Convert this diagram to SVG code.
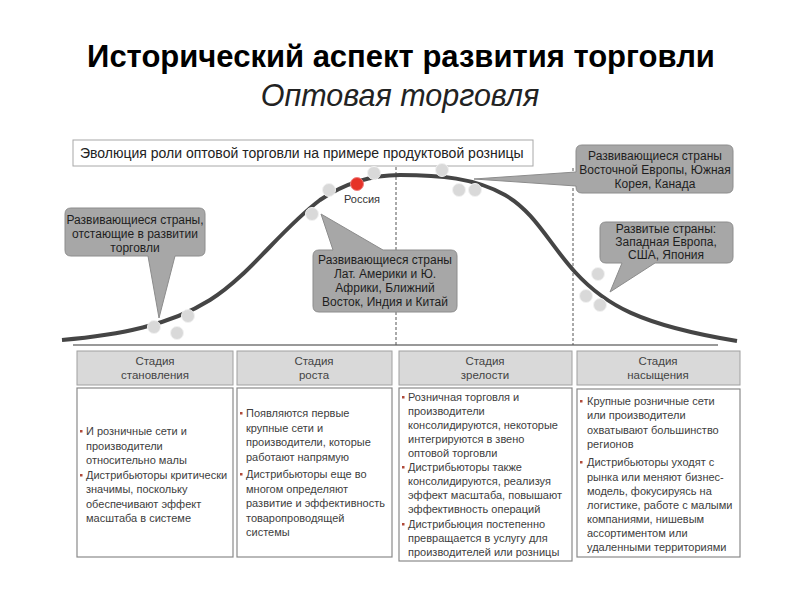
<svg xmlns="http://www.w3.org/2000/svg" width="800" height="600" viewBox="0 0 800 600">
<style>
text{font-family:"Liberation Sans",Arial,sans-serif}
.t1{font-size:31px;font-weight:bold;fill:#000}
.t2{font-size:30.5px;font-style:italic;fill:#222}
.hd{font-size:14px;fill:#222}
.co{fill:#a7a7a7;stroke:#8c8c8c;stroke-width:1}
.ct{font-size:12px;fill:#1e1e1e;text-anchor:middle}
.dot{fill:#d9d9d9;stroke:#f2f2f2;stroke-width:1}
.red{fill:#e63228;stroke:#f08080;stroke-width:1}
.dash{stroke:#555;stroke-width:1;stroke-dasharray:3 2;fill:none}
.hc{fill:#d9d9d9;stroke:#a0a0a0;stroke-width:1}
.bc{fill:#fff;stroke:#8a8a8a;stroke-width:1.2}
.ht{font-size:11.5px;fill:#444;text-anchor:middle}
.bt{font-size:11px;fill:#404040}
.bl{fill:#b04a3a}
</style>
<rect width="800" height="600" fill="#fff"/>
<g id="title">
<text class="t1" x="401" y="67" text-anchor="middle">Исторический аспект развития торговли</text>
<text class="t2" x="400" y="106" text-anchor="middle">Оптовая торговля</text>
</g>
<g id="header">
<rect x="73" y="140" width="460" height="26" fill="#fff" stroke="#a8a8a8" stroke-width="1"/>
<text class="hd" x="80" y="158">Эволюция роли оптовой торговли на примере продуктовой розницы</text>
</g>
<g id="connectors">
<line x1="73" y1="345" x2="718" y2="345" stroke="#777" stroke-width="1.5"/>
<line class="dash" x1="396" y1="167" x2="396" y2="345"/>
<line class="dash" x1="573" y1="168" x2="573" y2="345"/>
<path d="M62,340 C120,335 170,325 210,300 C250,275 280,230 320,200 C345,183 370,175 400,175 C440,175 475,178 505,195 C535,212 550,245 575,272 C605,305 640,325 737,341" fill="none" stroke="#454545" stroke-width="4"/>
</g>
<g id="dots">
<circle class="dot" cx="154" cy="327" r="6.5"/>
<circle class="dot" cx="188" cy="316" r="6.5"/>
<circle class="dot" cx="177" cy="333" r="6.5"/>
<circle class="dot" cx="312" cy="214" r="6.5"/>
<circle class="dot" cx="329" cy="190" r="6.5"/>
<circle class="dot" cx="374" cy="173" r="6.5"/>
<circle class="dot" cx="442" cy="170" r="6.5"/>
<circle class="dot" cx="459" cy="190" r="6.5"/>
<circle class="dot" cx="475" cy="190" r="6.5"/>
<circle class="dot" cx="598" cy="274" r="6.5"/>
<circle class="dot" cx="586" cy="296" r="6.5"/>
<circle class="dot" cx="600" cy="305" r="6.5"/>
<circle class="red" cx="357" cy="184" r="6.5"/>
<text x="362" y="203" font-size="11" fill="#333" text-anchor="middle">Россия</text>
</g>
<g id="callout-lagging">
<path class="co" d="M71,208 H199 Q205,208 205,214 V250 Q205,256 199,256 H175 L159,318 L148,256 H71 Q65,256 65,250 V214 Q65,208 71,208 Z"/>
<text class="ct" x="135" y="224">Развивающиеся страны,</text>
<text class="ct" x="135" y="238">отстающие в развитии</text>
<text class="ct" x="135" y="252">торговли</text>
</g>
<g id="callout-latam">
<path class="co" d="M319,250 H333 L321,214 L383,250 H451 Q457,250 457,256 V306 Q457,312 451,312 H319 Q313,312 313,306 V256 Q313,250 319,250 Z"/>
<text class="ct" x="385" y="264">Развивающиеся страны</text>
<text class="ct" x="385" y="278">Лат. Америки и Ю.</text>
<text class="ct" x="385" y="292">Африки, Ближний</text>
<text class="ct" x="385" y="306">Восток, Индия и Китай</text>
</g>
<g id="callout-easteurope">
<path class="co" d="M582,145 H727 Q733,145 733,151 V187 Q733,193 727,193 H582 Q576,193 576,187 V186 L474,179 L576,172 V151 Q576,145 582,145 Z"/>
<text class="ct" x="655" y="160">Развивающиеся страны</text>
<text class="ct" x="655" y="174" font-size="11.6">Восточной Европы, Южная</text>
<text class="ct" x="655" y="188">Корея, Канада</text>
</g>
<g id="callout-developed">
<path class="co" d="M606,222 H727 Q733,222 733,228 V257 Q733,263 727,263 H655 L610,292 L622,263 H606 Q600,263 600,257 V228 Q600,222 606,222 Z"/>
<text class="ct" x="666" y="233">Развитые страны:</text>
<text class="ct" x="666" y="246">Западная Европа,</text>
<text class="ct" x="666" y="259">США, Япония</text>
</g>
<g id="stage1">
<rect class="hc" x="77" y="351" width="156" height="34"/>
<text class="ht" x="155" y="365">Стадия</text>
<text class="ht" x="155" y="379">становления</text>
<rect class="bc" x="77" y="388" width="156" height="169"/>
<rect class="bl" x="80" y="430" width="2.5" height="2.5"/>
<rect class="bl" x="80" y="474" width="2.5" height="2.5"/>
<text class="bt" x="86" y="435">И розничные сети и</text>
<text class="bt" x="86" y="449.5">производители</text>
<text class="bt" x="86" y="464">относительно малы</text>
<text class="bt" x="86" y="479">Дистрибьюторы критически</text>
<text class="bt" x="86" y="493">значимы, поскольку</text>
<text class="bt" x="86" y="508">обеспечивают эффект</text>
<text class="bt" x="86" y="522">масштаба в системе</text>
</g>
<g id="stage2">
<rect class="hc" x="237" y="351" width="155" height="34"/>
<text class="ht" x="314" y="365">Стадия</text>
<text class="ht" x="314" y="379">роста</text>
<rect class="bc" x="237" y="388" width="155" height="169"/>
<rect class="bl" x="240" y="412" width="2.5" height="2.5"/>
<rect class="bl" x="240" y="473" width="2.5" height="2.5"/>
<text class="bt" x="246" y="417">Появляются первые</text>
<text class="bt" x="246" y="431.5">крупные сети и</text>
<text class="bt" x="246" y="446">производители, которые</text>
<text class="bt" x="246" y="460.5">работают напрямую</text>
<text class="bt" x="246" y="478">Дистрибьюторы еще во</text>
<text class="bt" x="246" y="492.5">многом определяют</text>
<text class="bt" x="246" y="507">развитие и эффективность</text>
<text class="bt" x="246" y="521.5">товаропроводящей</text>
<text class="bt" x="246" y="536">системы</text>
</g>
<g id="stage3">
<rect class="hc" x="399" y="351" width="173" height="34"/>
<text class="ht" x="485" y="365">Стадия</text>
<text class="ht" x="485" y="379">зрелости</text>
<rect class="bc" x="399" y="388" width="173" height="173"/>
<rect class="bl" x="402" y="396" width="2.5" height="2.5"/>
<rect class="bl" x="402" y="466" width="2.5" height="2.5"/>
<rect class="bl" x="402" y="523" width="2.5" height="2.5"/>
<text class="bt" x="408" y="401">Розничная торговля и</text>
<text class="bt" x="408" y="415">производители</text>
<text class="bt" x="408" y="429">консолидируются, некоторые</text>
<text class="bt" x="408" y="443">интегрируются в звено</text>
<text class="bt" x="408" y="457">оптовой торговли</text>
<text class="bt" x="408" y="471">Дистрибьюторы также</text>
<text class="bt" x="408" y="485">консолидируются, реализуя</text>
<text class="bt" x="408" y="499">эффект масштаба, повышают</text>
<text class="bt" x="408" y="513">эффективность операций</text>
<text class="bt" x="408" y="528">Дистрибьюция постепенно</text>
<text class="bt" x="408" y="542">превращается в услугу для</text>
<text class="bt" x="408" y="556">производителей или розницы</text>
</g>
<g id="stage4">
<rect class="hc" x="577" y="351" width="163" height="34"/>
<text class="ht" x="658" y="365">Стадия</text>
<text class="ht" x="658" y="379">насыщения</text>
<rect class="bc" x="577" y="389" width="163" height="168"/>
<rect class="bl" x="580" y="400" width="2.5" height="2.5"/>
<rect class="bl" x="580" y="461" width="2.5" height="2.5"/>
<text class="bt" x="587" y="405">Крупные розничные сети</text>
<text class="bt" x="587" y="419">или производители</text>
<text class="bt" x="587" y="434">охватывают большинство</text>
<text class="bt" x="587" y="448">регионов</text>
<text class="bt" x="587" y="466">Дистрибьюторы уходят с</text>
<text class="bt" x="587" y="480.5">рынка или меняют бизнес-</text>
<text class="bt" x="587" y="494.5">модель, фокусируясь на</text>
<text class="bt" x="587" y="508.5">логистике, работе с малыми</text>
<text class="bt" x="587" y="522.5">компаниями, нишевым</text>
<text class="bt" x="587" y="536.5">ассортиментом или</text>
<text class="bt" x="587" y="550.5">удаленными территориями</text>
</g>
</svg>
